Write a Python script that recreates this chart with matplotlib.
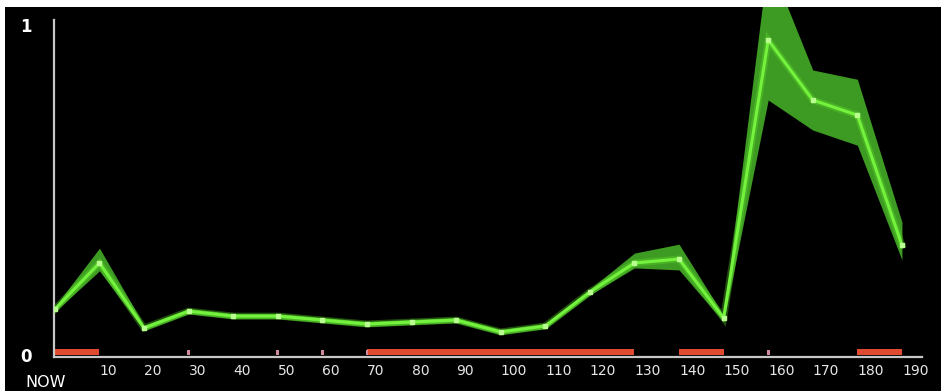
import numpy as np
import matplotlib.pyplot as plt
from matplotlib.patches import Rectangle

# sample times (minutes back from now) and the averaged load with its spread
minutes = np.arange(0, 200, 10)
load = [0.139, 0.279, 0.082, 0.133, 0.118, 0.118, 0.106, 0.094, 0.100, 0.106,
        0.070, 0.088, 0.191, 0.279, 0.291, 0.112, 0.955, 0.773, 0.727, 0.333]
load_hi = [0.147, 0.324, 0.090, 0.141, 0.126, 0.126, 0.114, 0.102, 0.108, 0.114,
           0.078, 0.096, 0.200, 0.309, 0.336, 0.120, 1.200, 0.864, 0.836, 0.403]
load_lo = [0.131, 0.255, 0.074, 0.125, 0.110, 0.110, 0.098, 0.086, 0.092, 0.098,
           0.062, 0.080, 0.182, 0.264, 0.258, 0.100, 0.773, 0.682, 0.636, 0.288]

# alert periods along the baseline and single events
busy_spans = [(0, 10), (70, 130), (140, 150), (180, 190)]
event_marks = [30, 50, 60, 70, 160]

x_ticks = list(range(10, 200, 10))
y_ticks = [0, 1]

W, H = 941, 391
fig = plt.figure(figsize=(W / 100, H / 100), dpi=100, facecolor='black')

# white frame strips at top and left
fig.patches.append(Rectangle((0, 1 - 7 / H), 1, 7 / H, transform=fig.transFigure,
                             facecolor='white', edgecolor='none'))
fig.patches.append(Rectangle((0, 0), 5 / W, 1, transform=fig.transFigure,
                             facecolor='white', edgecolor='none'))

ax = fig.add_axes([54 / W, (H - 357) / H, (922 - 54) / W, (357 - 7) / H])
ax.set_facecolor('black')

ax.fill_between(minutes, load_lo, load_hi, color='#3d9a22', lw=0, zorder=2)
ax.plot(minutes, load, color='#5fe02a', lw=5, alpha=0.35, zorder=3,
        solid_joinstyle='miter')
ax.plot(minutes, load, color='#74f23e', lw=2.2, zorder=4, marker='s', ms=3.5,
        mfc='#b8ff90', mec='#b8ff90')

for start, end in busy_spans:
    ax.broken_barh([(start, end - start)], (0.0, 0.018), facecolors='#e04a30',
                   zorder=2)
for m in event_marks:
    ax.broken_barh([(m - 0.3, 0.6)], (0.0, 0.014), facecolors='#d08a9a',
                   zorder=2)

ax.set_xlim(-0.2, 194.5)
ax.set_ylim(-0.006, 1.055)

for side in ('top', 'right'):
    ax.spines[side].set_visible(False)
for side in ('left', 'bottom'):
    ax.spines[side].set_color('#c8c8c8')
    ax.spines[side].set_linewidth(1.6)
ax.spines['left'].set_bounds(-0.006, 1.015)

ax.set_xticks(x_ticks)
ax.set_xticklabels([str(t) for t in x_ticks], ha='left')
ax.set_yticks(y_ticks)
ax.set_yticklabels([str(t) for t in y_ticks], fontweight='bold')
ax.tick_params(axis='x', length=0, pad=5, labelsize=10, labelcolor='#e6e6e6')
ax.tick_params(axis='y', length=0, pad=16, labelsize=12, labelcolor='white')

fig.text(25 / W, 1 - 375 / H, 'NOW', color='white', fontsize=11.5, va='top',
         ha='left')

fig.savefig('out.png', dpi=100, facecolor=fig.get_facecolor())
